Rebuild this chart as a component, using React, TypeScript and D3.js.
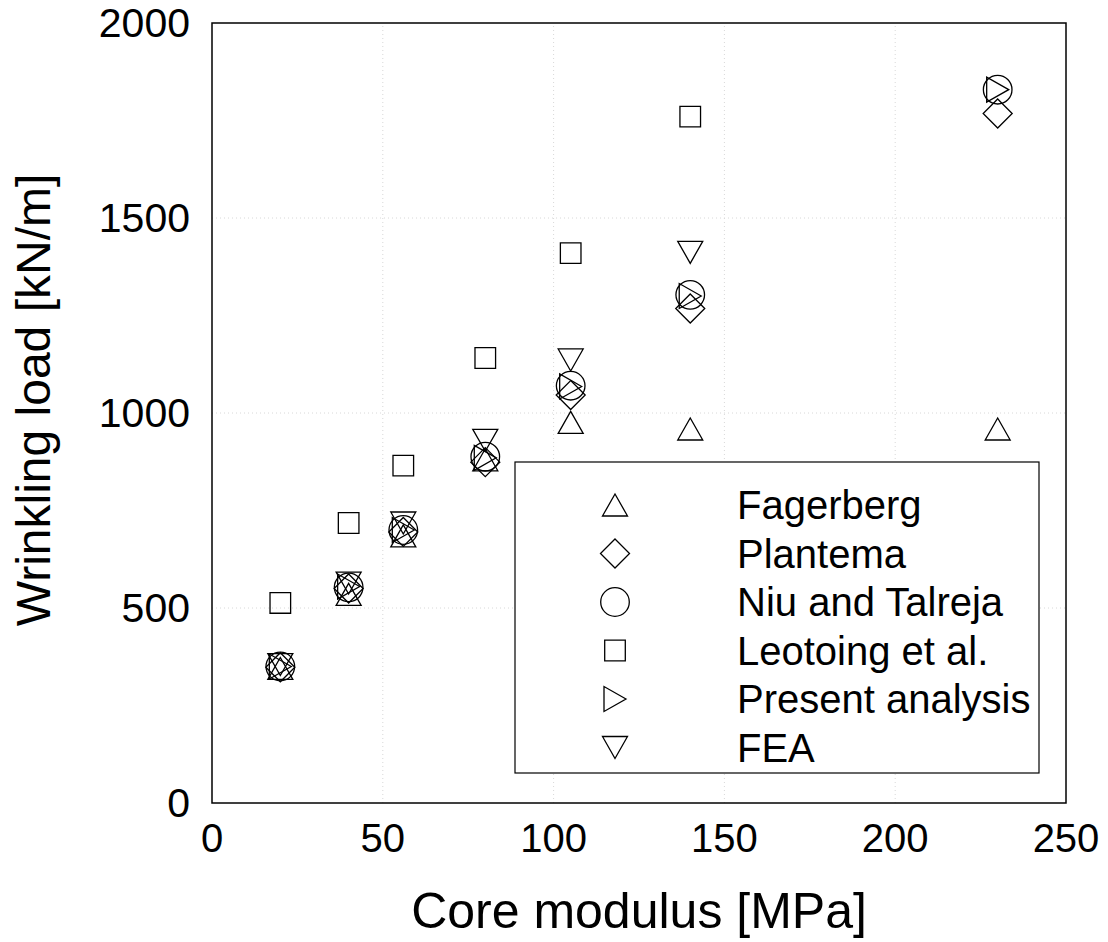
import React, { useEffect, useRef } from 'react';
import * as d3 from 'd3';

// core modulus [MPa]
const modulus = [20, 40, 56, 80, 105, 140, 230];
// wrinkling load [kN/m] per method
const fagerberg = [345, 535, 685, 880, 976, 959, 959];
const plantema = [348, 550, 695, 874, 1046, 1268, 1768];
const niuTalreja = [350, 553, 700, 888, 1070, 1303, 1829];
const leotoing = [513, 718, 865, 1141, 1410, 1760];
const present = [350, 555, 700, 885, 1068, 1300, 1829];
const fea = [355, 564, 718, 930, 1136, 1412];

const seriesNames = ['Fagerberg', 'Plantema', 'Niu and Talreja', 'Leotoing et al.', 'Present analysis', 'FEA'];
const seriesValues = [fagerberg, plantema, niuTalreja, leotoing, present, fea];
const seriesShapes = ['triUp', 'diamond', 'circle', 'square', 'triRight', 'triDown'];

const xTicks = [0, 50, 100, 150, 200, 250];
const yTicks = [0, 500, 1000, 1500, 2000];

// marker outlines centred on 0,0
function markerPath(shape: string): string {
    const p = d3.path();
    if (shape === 'triUp') {
        p.moveTo(0, -11); p.lineTo(12.5, 11); p.lineTo(-12.5, 11); p.closePath();
    } else if (shape === 'triDown') {
        p.moveTo(0, 11); p.lineTo(12.5, -11); p.lineTo(-12.5, -11); p.closePath();
    } else if (shape === 'triRight') {
        p.moveTo(11, 0); p.lineTo(-11, -12.5); p.lineTo(-11, 12.5); p.closePath();
    } else if (shape === 'diamond') {
        p.moveTo(0, -14.5); p.lineTo(14.5, 0); p.lineTo(0, 14.5); p.lineTo(-14.5, 0); p.closePath();
    } else if (shape === 'square') {
        p.rect(-10.3, -10.3, 20.6, 20.6);
    } else {
        p.arc(0, 0, 14.3, 0, Math.PI * 2);
    }
    return p.toString();
}

export default function App() {
    const ref = useRef<SVGSVGElement>(null);

    useEffect(() => {
        const svg = d3.select(ref.current);
        svg.selectAll('*').remove();
        const font = '"Liberation Sans", Arial, Helvetica, sans-serif';

        const x = d3.scaleLinear().domain([0, 250]).range([212, 1066]);
        const y = d3.scaleLinear().domain([0, 2000]).range([803, 23]);

        // faint dotted grid
        const grid = svg.append('g').attr('stroke', '#d8d8d8').attr('stroke-width', 1).attr('stroke-dasharray', '1,3');
        grid.selectAll('.gx')
            .data(xTicks.slice(1, -1))
            .enter()
            .append('line')
            .attr('x1', (d) => x(d))
            .attr('x2', (d) => x(d))
            .attr('y1', y(0))
            .attr('y2', y(2000));
        grid.selectAll('.gy')
            .data(yTicks.slice(1, -1))
            .enter()
            .append('line')
            .attr('x1', x(0))
            .attr('x2', x(250))
            .attr('y1', (d) => y(d))
            .attr('y2', (d) => y(d));

        // plot frame
        svg.append('rect')
            .attr('x', x(0))
            .attr('y', y(2000))
            .attr('width', x(250) - x(0))
            .attr('height', y(0) - y(2000))
            .attr('fill', 'none')
            .attr('stroke', '#000')
            .attr('stroke-width', 1.5);

        // tick labels
        svg.append('g')
            .selectAll('text')
            .data(xTicks)
            .enter()
            .append('text')
            .attr('x', (d) => x(d))
            .attr('y', 852)
            .attr('text-anchor', 'middle')
            .attr('font-family', font)
            .attr('font-size', 40)
            .text((d) => d);
        svg.append('g')
            .selectAll('text')
            .data(yTicks)
            .enter()
            .append('text')
            .attr('x', 190)
            .attr('y', (d) => y(d) + 14)
            .attr('text-anchor', 'end')
            .attr('font-family', font)
            .attr('font-size', 41)
            .text((d) => d);

        // axis titles
        svg.append('text')
            .attr('x', (x(0) + x(250)) / 2)
            .attr('y', 928)
            .attr('text-anchor', 'middle')
            .attr('font-family', font)
            .attr('font-size', 50)
            .text('Core modulus [MPa]');
        svg.append('text')
            .attr('transform', 'translate(50, 400) rotate(-90)')
            .attr('text-anchor', 'middle')
            .attr('font-family', font)
            .attr('font-size', 48)
            .text('Wrinkling load [kN/m]');

        // legend box (drawn before markers so the points sit over it)
        svg.append('rect')
            .attr('x', 515)
            .attr('y', 462)
            .attr('width', 524)
            .attr('height', 311)
            .attr('fill', '#fff')
            .attr('stroke', '#000')
            .attr('stroke-width', 1.2);

        seriesValues.forEach((vals, i) => {
            svg.append('g')
                .selectAll('path')
                .data(vals)
                .enter()
                .append('path')
                .attr('d', markerPath(seriesShapes[i]))
                .attr('transform', (d, j) => `translate(${x(modulus[j])}, ${y(d)})`)
                .attr('fill', 'none')
                .attr('stroke', '#000')
                .attr('stroke-width', 1.3);
        });

        const legend = svg.append('g');
        seriesNames.forEach((name, i) => {
            const cy = 505 + i * 48.5;
            legend.append('path')
                .attr('d', markerPath(seriesShapes[i]))
                .attr('transform', `translate(615, ${cy})`)
                .attr('fill', 'none')
                .attr('stroke', '#000')
                .attr('stroke-width', 1.3);
            legend.append('text')
                .attr('x', 737)
                .attr('y', cy + 14)
                .attr('font-family', font)
                .attr('font-size', 40)
                .text(name);
        });
    }, []);

    return (
        <svg
            ref={ref}
            width={1108}
            height={942}
            style={{ position: 'absolute', left: 0, top: 0, background: '#fff' }}
        />
    );
}
